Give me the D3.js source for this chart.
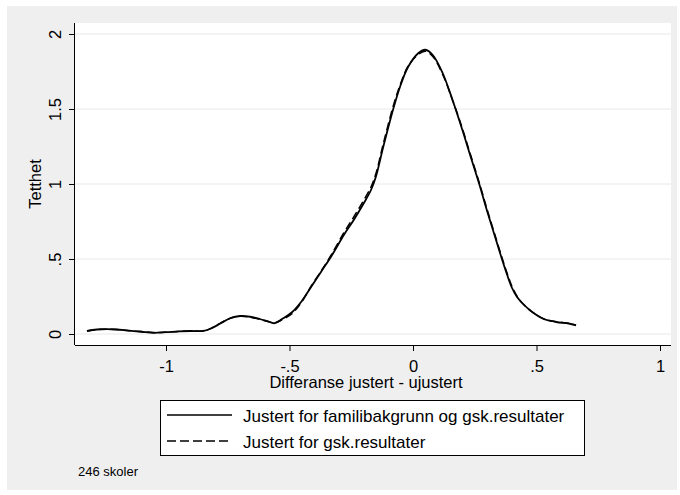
<!DOCTYPE html>
<html>
<head>
<meta charset="utf-8">
<script src="https://cdn.jsdelivr.net/npm/d3@7"></script>
<style>
  body { margin: 0; background: #fff; }
  text { font-family: "Liberation Sans", Arial, sans-serif; fill: #000; }
</style>
</head>
<body>
<div id="chart"></div>
<script>
// density estimates
const xSolid = [-1.32, -1.28, -1.24, -1.2, -1.15, -1.1, -1.05, -1.0, -0.95, -0.9, -0.85, -0.82, -0.78, -0.74, -0.7, -0.66, -0.62, -0.58, -0.56, -0.53, -0.49, -0.45, -0.41, -0.37, -0.33, -0.28, -0.24, -0.2, -0.17, -0.15, -0.12, -0.08, -0.05, -0.02, 0.02, 0.05, 0.08, 0.12, 0.16, 0.2, 0.23, 0.27, 0.3, 0.33, 0.36, 0.38, 0.4, 0.42, 0.44, 0.48, 0.53, 0.58, 0.63, 0.66];
const ySolid = [0.02, 0.03, 0.033, 0.03, 0.022, 0.015, 0.008, 0.012, 0.018, 0.02, 0.02, 0.035, 0.07, 0.105, 0.12, 0.115, 0.1, 0.08, 0.072, 0.1, 0.145, 0.22, 0.32, 0.42, 0.52, 0.66, 0.76, 0.87, 0.96, 1.05, 1.25, 1.5, 1.66, 1.78, 1.87, 1.895, 1.86, 1.74, 1.56, 1.36, 1.2, 0.99, 0.82, 0.66, 0.5, 0.4, 0.31, 0.25, 0.21, 0.15, 0.1, 0.08, 0.07, 0.058];

const xDashed = [-1.32, -1.28, -1.24, -1.2, -1.15, -1.1, -1.05, -1.0, -0.95, -0.9, -0.85, -0.82, -0.78, -0.74, -0.7, -0.66, -0.62, -0.58, -0.56, -0.53, -0.49, -0.45, -0.41, -0.37, -0.33, -0.28, -0.24, -0.2, -0.17, -0.15, -0.12, -0.08, -0.05, -0.02, 0.02, 0.05, 0.08, 0.12, 0.16, 0.2, 0.23, 0.27, 0.3, 0.33, 0.36, 0.38, 0.4, 0.42, 0.44, 0.48, 0.53, 0.58, 0.63, 0.66];
const yDashed = [0.02, 0.03, 0.032, 0.03, 0.022, 0.016, 0.01, 0.012, 0.017, 0.02, 0.02, 0.036, 0.072, 0.105, 0.118, 0.112, 0.098, 0.08, 0.074, 0.095, 0.135, 0.215, 0.325, 0.425, 0.53, 0.675, 0.78, 0.89, 0.98, 1.07, 1.27, 1.52, 1.67, 1.785, 1.862, 1.885, 1.85, 1.73, 1.56, 1.37, 1.21, 1.0, 0.83, 0.67, 0.51, 0.41, 0.32, 0.255, 0.21, 0.15, 0.1, 0.082, 0.072, 0.06];

const xTicks = [-1, -0.5, 0, 0.5, 1];
const yTicks = [0, 0.5, 1, 1.5, 2];
const legendLabels = ["Justert for familibakgrunn og gsk.resultater", "Justert for gsk.resultater"];

const W = 680, H = 495;
// Stata style labels: -.5, .5
const fmt = v => d3.format("~g")(v).replace("\u2212", "-").replace(/^(-?)0\./, "$1.");

const svg = d3.select("#chart").append("svg")
  .attr("width", W).attr("height", H);

// outer graph region
svg.append("rect").attr("x", 7).attr("y", 6).attr("width", 670).attr("height", 484)
  .attr("fill", "#efefef");

// plot region
const plot = { left: 75, right: 671, top: 23, bottom: 345 };
svg.append("rect")
  .attr("x", plot.left).attr("y", plot.top)
  .attr("width", plot.right - plot.left).attr("height", plot.bottom - plot.top)
  .attr("fill", "#fff");

const x = d3.scaleLinear().domain([-1, 1]).range([166, 660]);
const y = d3.scaleLinear().domain([0, 2]).range([334, 34]);

// grid
svg.append("g").selectAll("line").data(yTicks).join("line")
  .attr("x1", plot.left).attr("x2", plot.right)
  .attr("y1", d => y(d)).attr("y2", d => y(d))
  .attr("stroke", "#e8e8e8").attr("stroke-width", 1);

// axes
const xAxis = svg.append("g")
  .attr("transform", `translate(0,${plot.bottom})`)
  .call(d3.axisBottom(x).tickValues(xTicks).tickFormat(fmt).tickSize(6).tickPadding(9));
xAxis.select(".domain").attr("d", `M${plot.left},0.5H${plot.right}`).attr("stroke", "#000");
xAxis.selectAll("text").attr("font-size", 16.5).attr("font-family", "Liberation Sans, Arial, sans-serif");

const yAxis = svg.append("g")
  .attr("transform", `translate(${plot.left},0)`)
  .call(d3.axisLeft(y).tickValues(yTicks).tickFormat(fmt).tickSize(6));
yAxis.select(".domain").attr("d", `M-0.5,${plot.top}V${plot.bottom}`).attr("stroke", "#000");
yAxis.selectAll("text")
  .attr("font-size", 16.5).attr("font-family", "Liberation Sans, Arial, sans-serif")
  .attr("text-anchor", "middle")
  .attr("x", null).attr("dy", null)
  .attr("transform", "translate(-14,0) rotate(-90)");

// axis titles
svg.append("text").attr("x", 366).attr("y", 388)
  .attr("text-anchor", "middle").attr("font-size", 16.5)
  .text("Differanse justert - ujustert");
svg.append("text").attr("transform", `translate(41,${(plot.top + plot.bottom) / 2}) rotate(-90)`)
  .attr("text-anchor", "middle").attr("font-size", 16.5)
  .text("Tetthet");

// curves
const line = d3.line()
  .x(d => x(d[0])).y(d => y(d[1]))
  .curve(d3.curveCatmullRom.alpha(0.5));

svg.append("path")
  .attr("d", line(d3.zip(xSolid, ySolid)))
  .attr("fill", "none").attr("stroke", "#000").attr("stroke-width", 1.8);
svg.append("path")
  .attr("d", line(d3.zip(xDashed, yDashed)))
  .attr("fill", "none").attr("stroke", "#000").attr("stroke-width", 1.5)
  .attr("stroke-dasharray", "8,4");

// legend
const lg = svg.append("g");
lg.append("rect").attr("x", 160.5).attr("y", 400.5).attr("width", 424).attr("height", 55)
  .attr("fill", "#fff").attr("stroke", "#000");
legendLabels.forEach((lab, i) => {
  const ly = 415 + i * 26;
  lg.append("line").attr("x1", 167).attr("x2", 232).attr("y1", ly).attr("y2", ly)
    .attr("stroke", "#000").attr("stroke-width", 1.6)
    .attr("stroke-dasharray", i === 0 ? null : "9,4");
  lg.append("text").attr("x", 243).attr("y", ly + 7).attr("font-size", 17).text(lab);
});

// note
svg.append("text").attr("x", 78).attr("y", 476).attr("font-size", 13).text("246 skoler");
</script>
</body>
</html>
